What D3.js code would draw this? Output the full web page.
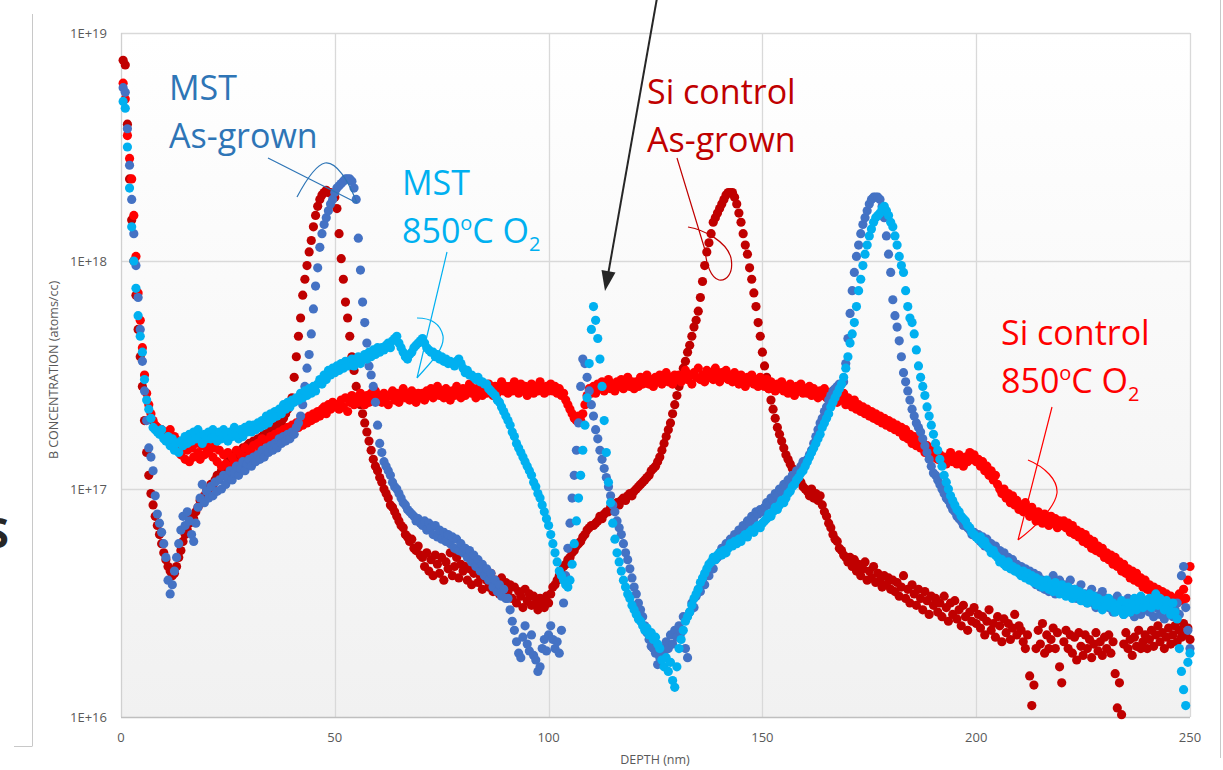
<!DOCTYPE html>
<html>
<head>
<meta charset="utf-8">
<script src="https://cdn.jsdelivr.net/npm/d3@7"></script>
<style>
  html, body { margin: 0; padding: 0; background: #fff; }
  svg { display: block; font-family: "Open Sans", sans-serif; }
</style>
</head>
<body>
<div id="chart"></div>
<script>
// log10 of B concentration (atoms/cc), one value every 0.5 nm from 0.5 to 250 nm
const siAsGrown = [
  18.88, 18.86, 18.6, 18.36, 18.18, 18.0, 17.85, 17.7, 17.58, 17.45, 17.3, 17.16, 17.06, 16.98, 16.93, 16.88, 16.84, 16.8, 16.76, 16.72,
  16.69, 16.66, 16.64, 16.62, 16.63, 16.66, 16.7, 16.73, 16.77, 16.8, 16.82, 16.85, 16.88, 16.87, 16.9, 16.92, 16.95, 16.94, 16.97, 16.99,
  17.0, 17.02, 17.01, 17.04, 17.06, 17.05, 17.08, 17.1, 17.09, 17.12, 17.1, 17.13, 17.15, 17.14, 17.16, 17.15, 17.18, 17.17, 17.19, 17.2,
  17.19, 17.21, 17.2, 17.22, 17.21, 17.23, 17.24, 17.22, 17.25, 17.26, 17.27, 17.26, 17.28, 17.3, 17.29, 17.31, 17.33, 17.35, 17.37, 17.4,
  17.49, 17.58, 17.67, 17.75, 17.85, 17.92, 17.98, 18.04, 18.09, 18.15, 18.2, 18.24, 18.27, 18.29, 18.3, 18.31, 18.3, 18.3, 18.29, 18.28,
  18.23, 18.12, 18.01, 17.92, 17.82, 17.75, 17.67, 17.58, 17.52, 17.45, 17.4, 17.37, 17.33, 17.29, 17.25, 17.21, 17.17, 17.13, 17.1, 17.08,
  17.05, 17.03, 17.0, 16.98, 16.96, 16.93, 16.92, 16.9, 16.88, 16.86, 16.84, 16.83, 16.8, 16.79, 16.77, 16.78, 16.74, 16.73, 16.75, 16.71,
  16.7, 16.66, 16.72, 16.64, 16.69, 16.62, 16.71, 16.67, 16.63, 16.7, 16.6, 16.68, 16.65, 16.72, 16.62, 16.66, 16.7, 16.61, 16.67, 16.64,
  16.66, 16.6, 16.65, 16.58, 16.63, 16.67, 16.59, 16.62, 16.56, 16.64, 16.6, 16.57, 16.63, 16.55, 16.6, 16.58, 16.54, 16.61, 16.56, 16.59,
  16.55, 16.58, 16.52, 16.57, 16.5, 16.55, 16.53, 16.48, 16.56, 16.51, 16.54, 16.49, 16.53, 16.5, 16.47, 16.52, 16.5, 16.48, 16.53, 16.5,
  16.54, 16.57, 16.58, 16.6, 16.62, 16.63, 16.66, 16.67, 16.69, 16.7, 16.72, 16.73, 16.75, 16.76, 16.77, 16.79, 16.8, 16.82, 16.83, 16.84,
  16.84, 16.85, 16.86, 16.88, 16.87, 16.89, 16.9, 16.9, 16.92, 16.91, 16.93, 16.94, 16.93, 16.95, 16.96, 16.95, 16.97, 16.98, 16.97, 16.99,
  17.0, 17.01, 17.02, 17.03, 17.04, 17.05, 17.06, 17.08, 17.09, 17.1, 17.12, 17.14, 17.17, 17.2, 17.23, 17.26, 17.29, 17.33, 17.37, 17.41,
  17.45, 17.49, 17.53, 17.56, 17.6, 17.63, 17.67, 17.71, 17.74, 17.78, 17.84, 17.91, 17.98, 18.04, 18.08, 18.12, 18.17, 18.19, 18.21, 18.23,
  18.25, 18.27, 18.29, 18.3, 18.3, 18.3, 18.28, 18.25, 18.21, 18.17, 18.12, 18.07, 18.03, 17.97, 17.92, 17.86, 17.8, 17.73, 17.67, 17.6,
  17.54, 17.49, 17.44, 17.39, 17.35, 17.31, 17.27, 17.24, 17.21, 17.18, 17.15, 17.13, 17.11, 17.09, 17.07, 17.05, 17.04, 17.03, 17.01, 17.0,
  16.99, 16.97, 17.0, 16.96, 16.98, 16.95, 16.97, 16.93, 16.9, 16.88, 16.85, 16.83, 16.8, 16.78, 16.77, 16.74, 16.73, 16.71, 16.7, 16.68,
  16.7, 16.66, 16.69, 16.64, 16.67, 16.62, 16.65, 16.68, 16.6, 16.64, 16.61, 16.66, 16.59, 16.63, 16.6, 16.57, 16.62, 16.58, 16.61, 16.56,
  16.6, 16.55, 16.59, 16.53, 16.57, 16.62, 16.52, 16.56, 16.5, 16.58, 16.54, 16.49, 16.56, 16.52, 16.47, 16.55, 16.51, 16.45, 16.53, 16.49,
  16.52, 16.46, 16.5, 16.44, 16.53, 16.48, 16.42, 16.5, 16.45, 16.51, 16.43, 16.47, 16.4, 16.49, 16.44, 16.38, 16.46, 16.42, 16.48, 16.41,
  16.45, 16.39, 16.44, 16.36, 16.42, 16.47, 16.38, 16.41, 16.35, 16.44, 16.4, 16.33, 16.43, 16.37, 16.41, 16.34, 16.39, 16.45, 16.36, 16.4,
  16.38, 16.33, 16.3, 16.36, 16.18, 16.05, 16.14, 16.3, 16.38, 16.32, 16.41, 16.28, 16.36, 16.3, 16.34, 16.39, 16.3, 16.37, 16.22, 16.15,
  16.33, 16.38, 16.3, 16.36, 16.28, 16.35, 16.25, 16.37, 16.31, 16.27, 16.36, 16.3, 16.34, 16.26, 16.32, 16.37, 16.29, 16.33, 16.27, 16.35,
  16.3, 16.36, 16.28, 16.33, 16.19, 16.04, 16.15, 16.01, 16.32, 16.37, 16.3, 16.34, 16.27, 16.35, 16.31, 16.38, 16.3, 16.33, 16.36, 16.3,
  16.34, 16.38, 16.31, 16.36, 16.4, 16.33, 16.37, 16.3, 16.35, 16.39, 16.32, 16.36, 16.4, 16.33, 16.38, 16.35, 16.41, 16.36, 16.39, 16.34
];

const siAnneal = [
  18.78, 18.71, 18.55, 18.45, 18.36, 18.2, 18.02, 17.86, 17.74, 17.62, 17.5, 17.42, 17.37, 17.33, 17.3, 17.28, 17.27, 17.25, 17.26, 17.24,
  17.25, 17.22, 17.26, 17.2, 17.23, 17.18, 17.21, 17.15, 17.19, 17.13, 17.17, 17.12, 17.18, 17.14, 17.2, 17.16, 17.13, 17.19, 17.15, 17.18,
  17.16, 17.2, 17.14, 17.18, 17.12, 17.17, 17.1, 17.15, 17.11, 17.16, 17.09, 17.14, 17.12, 17.17, 17.11, 17.15, 17.13, 17.18, 17.14, 17.17,
  17.16, 17.19, 17.15, 17.2, 17.18, 17.22, 17.17, 17.21, 17.19, 17.23, 17.2, 17.24, 17.22, 17.25, 17.21, 17.26, 17.24, 17.27, 17.23, 17.28,
  17.26, 17.29, 17.27, 17.3, 17.28, 17.31, 17.29, 17.32, 17.3, 17.33, 17.31, 17.34, 17.32, 17.35, 17.36, 17.33, 17.37, 17.35, 17.38, 17.36,
  17.37, 17.35, 17.39, 17.36, 17.4, 17.34, 17.38, 17.41, 17.37, 17.4, 17.38, 17.42, 17.39, 17.37, 17.41, 17.38, 17.42, 17.4, 17.43, 17.39,
  17.41, 17.38, 17.42, 17.4, 17.37, 17.41, 17.43, 17.39, 17.42, 17.38, 17.41, 17.44, 17.4, 17.42, 17.39, 17.43, 17.41, 17.38, 17.42, 17.4,
  17.42, 17.39, 17.43, 17.41, 17.44, 17.4, 17.42, 17.45, 17.41, 17.43, 17.4, 17.44, 17.42, 17.39, 17.43, 17.41, 17.45, 17.42, 17.4, 17.44,
  17.41, 17.43, 17.46, 17.42, 17.44, 17.4, 17.43, 17.45, 17.41, 17.44, 17.42, 17.46, 17.43, 17.41, 17.45, 17.42, 17.44, 17.47, 17.43, 17.45,
  17.42, 17.45, 17.43, 17.47, 17.44, 17.42, 17.46, 17.43, 17.45, 17.41, 17.44, 17.46, 17.42, 17.45, 17.43, 17.47, 17.44, 17.42, 17.45, 17.43,
  17.46, 17.43, 17.45, 17.42, 17.44, 17.41, 17.42, 17.39, 17.37, 17.35, 17.33, 17.31, 17.3, 17.32, 17.3, 17.33, 17.37, 17.41, 17.44, 17.42,
  17.45, 17.42, 17.46, 17.44, 17.47, 17.43, 17.45, 17.48, 17.44, 17.46, 17.43, 17.47, 17.45, 17.48, 17.44, 17.46, 17.49, 17.45, 17.47, 17.44,
  17.47, 17.45, 17.49, 17.46, 17.48, 17.5, 17.46, 17.48, 17.45, 17.49, 17.47, 17.5, 17.46, 17.48, 17.51, 17.47, 17.49, 17.46, 17.5, 17.48,
  17.5, 17.47, 17.49, 17.52, 17.48, 17.5, 17.46, 17.51, 17.49, 17.53, 17.48, 17.5, 17.47, 17.52, 17.49, 17.51, 17.48, 17.53, 17.5, 17.47,
  17.51, 17.49, 17.52, 17.48, 17.5, 17.47, 17.51, 17.49, 17.46, 17.5, 17.48, 17.45, 17.49, 17.47, 17.5, 17.46, 17.48, 17.45, 17.49, 17.47,
  17.45, 17.48, 17.44, 17.47, 17.45, 17.43, 17.46, 17.44, 17.47, 17.43, 17.45, 17.42, 17.46, 17.44, 17.41, 17.45, 17.43, 17.46, 17.42, 17.44,
  17.42, 17.45, 17.41, 17.44, 17.42, 17.4, 17.43, 17.41, 17.44, 17.4, 17.42, 17.39, 17.43, 17.4, 17.38, 17.41, 17.39, 17.42, 17.37, 17.4,
  17.38, 17.36, 17.39, 17.35, 17.37, 17.34, 17.36, 17.33, 17.35, 17.32, 17.34, 17.31, 17.33, 17.3, 17.32, 17.29, 17.31, 17.28, 17.3, 17.27,
  17.29, 17.26, 17.28, 17.25, 17.27, 17.23, 17.26, 17.22, 17.24, 17.2, 17.23, 17.19, 17.21, 17.18, 17.2, 17.16, 17.19, 17.15, 17.17, 17.14,
  17.16, 17.13, 17.15, 17.12, 17.14, 17.11, 17.13, 17.16, 17.12, 17.14, 17.11, 17.15, 17.13, 17.1, 17.14, 17.12, 17.16, 17.13, 17.15, 17.12,
  17.13, 17.1, 17.12, 17.08, 17.1, 17.06, 17.08, 17.04, 17.06, 17.02, 17.0, 16.98, 17.0, 16.96, 16.98, 16.94, 16.97, 16.93, 16.95, 16.91,
  16.93, 16.9, 16.94, 16.91, 16.88, 16.92, 16.89, 16.86, 16.9, 16.87, 16.85, 16.89, 16.86, 16.84, 16.88, 16.85, 16.87, 16.83, 16.86, 16.84,
  16.86, 16.83, 16.85, 16.81, 16.84, 16.8, 16.82, 16.79, 16.81, 16.77, 16.8, 16.76, 16.78, 16.74, 16.77, 16.73, 16.75, 16.72, 16.74, 16.7,
  16.72, 16.69, 16.71, 16.67, 16.7, 16.66, 16.68, 16.64, 16.67, 16.63, 16.65, 16.61, 16.64, 16.6, 16.63, 16.59, 16.61, 16.57, 16.6, 16.56,
  16.58, 16.55, 16.57, 16.53, 16.56, 16.52, 16.55, 16.51, 16.54, 16.5, 16.53, 16.49, 16.52, 16.5, 16.54, 16.51, 16.56, 16.52, 16.6, 16.66
];

const mstAsGrown = [
  18.76, 18.74, 18.58, 18.42, 18.27, 18.12, 17.98, 17.84, 17.7, 17.56, 17.43, 17.3, 17.18, 17.14, 17.08, 16.97, 16.89, 16.85, 16.81, 16.76,
  16.7, 16.6, 16.54, 16.58, 16.64, 16.7, 16.76, 16.82, 16.88, 16.84, 16.9, 16.86, 16.8, 16.77, 16.85, 16.92, 16.96, 17.02, 16.94, 16.99,
  16.96, 17.01, 16.97, 17.03, 16.99, 17.04, 17.0, 17.06, 17.02, 17.05, 17.08, 17.04, 17.07, 17.1, 17.06, 17.09, 17.12, 17.08, 17.11, 17.13,
  17.1, 17.14, 17.12, 17.15, 17.13, 17.17, 17.14, 17.18, 17.16, 17.19, 17.17, 17.2, 17.18, 17.22, 17.2, 17.23, 17.21, 17.24, 17.22, 17.25,
  17.24, 17.27, 17.29, 17.32, 17.37, 17.45, 17.53, 17.59, 17.68, 17.79, 17.89, 17.97, 18.06, 18.12, 18.16, 18.19, 18.22, 18.25, 18.27, 18.3,
  18.32, 18.33, 18.34, 18.35, 18.36, 18.36, 18.36, 18.35, 18.32, 18.27, 18.1, 17.96, 17.82, 17.73, 17.64, 17.54, 17.5, 17.45, 17.38, 17.28,
  17.2, 17.16, 17.12, 17.1, 17.08, 17.06, 17.03, 17.01, 17.0, 16.98, 16.96, 16.94, 16.93, 16.91, 16.9, 16.89, 16.88, 16.86, 16.87, 16.85,
  16.84, 16.86, 16.82, 16.85, 16.83, 16.8, 16.84, 16.79, 16.82, 16.78, 16.81, 16.77, 16.8, 16.76, 16.79, 16.74, 16.78, 16.73, 16.76, 16.72,
  16.74, 16.7, 16.73, 16.68, 16.71, 16.66, 16.69, 16.64, 16.67, 16.62, 16.65, 16.6, 16.63, 16.57, 16.6, 16.55, 16.58, 16.53, 16.56, 16.52,
  16.52, 16.47, 16.42, 16.38, 16.33, 16.28, 16.26, 16.35, 16.4, 16.32, 16.29, 16.36, 16.27, 16.25, 16.2, 16.22, 16.3, 16.34, 16.29, 16.36,
  16.4, 16.34, 16.3, 16.33, 16.28, 16.38, 16.5, 16.62, 16.74, 16.85, 16.96, 17.06, 17.17, 17.29, 17.45, 17.57, 17.55, 17.49, 17.43, 17.37,
  17.32, 17.26, 17.22, 17.17, 17.13, 17.09, 17.05, 17.01, 16.97, 16.93, 16.9, 16.86, 16.83, 16.8, 16.76, 16.72, 16.69, 16.65, 16.61, 16.57,
  16.54, 16.5, 16.47, 16.44, 16.4, 16.37, 16.34, 16.31, 16.3, 16.28, 16.23, 16.26, 16.3, 16.27, 16.33, 16.3, 16.36, 16.32, 16.38, 16.35,
  16.4, 16.37, 16.44, 16.3, 16.26, 16.46, 16.5, 16.48, 16.53, 16.56, 16.55, 16.6, 16.58, 16.63, 16.62, 16.66, 16.65, 16.69, 16.7, 16.72,
  16.74, 16.72, 16.76, 16.75, 16.78, 16.77, 16.8, 16.79, 16.82, 16.81, 16.84, 16.83, 16.86, 16.85, 16.88, 16.87, 16.9, 16.89, 16.91, 16.9,
  16.92, 16.94, 16.93, 16.96, 16.95, 16.98, 16.97, 17.0, 16.99, 17.02, 17.01, 17.04, 17.03, 17.06, 17.05, 17.08, 17.07, 17.1, 17.12, 17.11,
  17.13, 17.15, 17.17, 17.2, 17.23, 17.26, 17.29, 17.31, 17.34, 17.36, 17.39, 17.41, 17.43, 17.44, 17.45, 17.46, 17.46, 17.47, 17.55, 17.66,
  17.77, 17.87, 17.95, 18.02, 18.07, 18.12, 18.16, 18.19, 18.22, 18.25, 18.27, 18.28, 18.28, 18.28, 18.27, 18.24, 18.19, 18.11, 18.03, 17.95,
  17.83, 17.76, 17.71, 17.65, 17.58, 17.51, 17.47, 17.43, 17.39, 17.35, 17.32, 17.29, 17.27, 17.25, 17.22, 17.19, 17.16, 17.13, 17.1, 17.07,
  17.06, 17.04, 17.02, 17.0, 16.98, 16.96, 16.95, 16.93, 16.91, 16.9, 16.88, 16.87, 16.86, 16.84, 16.85, 16.83, 16.82, 16.8, 16.81, 16.79,
  16.8, 16.77, 16.79, 16.75, 16.78, 16.74, 16.76, 16.72, 16.75, 16.71, 16.73, 16.69, 16.72, 16.68, 16.7, 16.66, 16.69, 16.65, 16.67, 16.64,
  16.66, 16.62, 16.65, 16.61, 16.64, 16.6, 16.63, 16.58, 16.62, 16.57, 16.6, 16.56, 16.59, 16.55, 16.58, 16.62, 16.54, 16.57, 16.6, 16.55,
  16.58, 16.54, 16.57, 16.6, 16.53, 16.56, 16.52, 16.55, 16.58, 16.51, 16.54, 16.5, 16.53, 16.56, 16.5, 16.48, 16.53, 16.51, 16.55, 16.49,
  16.52, 16.48, 16.51, 16.46, 16.5, 16.53, 16.47, 16.5, 16.45, 16.49, 16.52, 16.46, 16.5, 16.44, 16.48, 16.51, 16.45, 16.49, 16.47, 16.5,
  16.46, 16.49, 16.44, 16.48, 16.51, 16.45, 16.47, 16.43, 16.5, 16.46, 16.48, 16.44, 16.47, 16.5, 16.45, 16.62, 16.66, 16.48, 16.38, 16.3
];

const mstAnneal = [
  18.7, 18.67, 18.5, 18.32, 18.15, 18.0, 17.88, 17.76, 17.67, 17.6, 17.48, 17.39, 17.35, 17.31, 17.27, 17.26, 17.25, 17.24, 17.26, 17.22,
  17.21, 17.23, 17.19, 17.22, 17.17, 17.2, 17.16, 17.21, 17.19, 17.23, 17.2, 17.24, 17.21, 17.25, 17.22, 17.26, 17.23, 17.2, 17.24, 17.22,
  17.25, 17.22, 17.26, 17.23, 17.21, 17.25, 17.22, 17.26, 17.24, 17.21, 17.25, 17.23, 17.27, 17.24, 17.22, 17.26, 17.23, 17.27, 17.25, 17.28,
  17.25, 17.28, 17.26, 17.29, 17.27, 17.3, 17.28, 17.32, 17.29, 17.33, 17.31, 17.34, 17.32, 17.35, 17.33, 17.37, 17.35, 17.38, 17.36, 17.39,
  17.38, 17.4, 17.39, 17.42, 17.4, 17.43, 17.41, 17.44, 17.42, 17.45, 17.43, 17.46, 17.48, 17.46, 17.5, 17.48, 17.52, 17.5, 17.53, 17.51,
  17.54, 17.52, 17.55, 17.53, 17.56, 17.54, 17.55, 17.57, 17.54, 17.56, 17.58, 17.55, 17.57, 17.59, 17.57, 17.6, 17.58, 17.61, 17.59, 17.62,
  17.6, 17.62, 17.61, 17.63, 17.64, 17.62, 17.65, 17.66, 17.67, 17.64, 17.62, 17.6, 17.58, 17.57, 17.59, 17.6, 17.62, 17.63, 17.64, 17.65,
  17.66, 17.64, 17.62, 17.61, 17.6, 17.6, 17.58, 17.59, 17.57, 17.58, 17.56, 17.57, 17.55, 17.56, 17.55, 17.54, 17.56, 17.57, 17.55, 17.53,
  17.51, 17.52, 17.5, 17.5, 17.49, 17.48, 17.49, 17.47, 17.47, 17.46, 17.46, 17.44, 17.43, 17.42, 17.41, 17.39, 17.38, 17.36, 17.34, 17.32,
  17.3, 17.28, 17.25, 17.23, 17.2, 17.18, 17.16, 17.14, 17.12, 17.1, 17.08, 17.06, 17.03, 17.01, 16.98, 16.96, 16.93, 16.9, 16.87, 16.84,
  16.8, 16.76, 16.72, 16.68, 16.64, 16.62, 16.6, 16.58, 16.57, 16.6, 16.67, 16.76, 16.86, 16.96, 17.06, 17.17, 17.28, 17.4, 17.55, 17.7,
  17.8, 17.74, 17.66, 17.57, 17.45, 17.3, 17.16, 17.03, 16.94, 16.85, 16.78, 16.72, 16.68, 16.64, 16.6, 16.57, 16.54, 16.52, 16.49, 16.47,
  16.45, 16.43, 16.42, 16.4, 16.38, 16.39, 16.36, 16.37, 16.34, 16.35, 16.32, 16.3, 16.25, 16.22, 16.26, 16.2, 16.24, 16.16, 16.13, 16.22,
  16.3, 16.34, 16.38, 16.42, 16.44, 16.46, 16.49, 16.52, 16.54, 16.56, 16.59, 16.61, 16.63, 16.65, 16.67, 16.68, 16.7, 16.69, 16.71, 16.72,
  16.71, 16.73, 16.72, 16.74, 16.76, 16.75, 16.77, 16.76, 16.78, 16.77, 16.79, 16.8, 16.79, 16.81, 16.82, 16.81, 16.83, 16.84, 16.83, 16.85,
  16.86, 16.87, 16.89, 16.88, 16.9, 16.92, 16.91, 16.93, 16.95, 16.94, 16.96, 16.98, 16.99, 17.01, 17.02, 17.04, 17.05, 17.07, 17.08, 17.1,
  17.12, 17.14, 17.16, 17.18, 17.2, 17.22, 17.24, 17.27, 17.29, 17.31, 17.33, 17.36, 17.38, 17.4, 17.42, 17.44, 17.46, 17.49, 17.53, 17.58,
  17.64, 17.68, 17.73, 17.8, 17.87, 17.92, 17.98, 18.03, 18.07, 18.11, 18.14, 18.17, 18.19, 18.2, 18.21, 18.23, 18.24, 18.22, 18.2, 18.17,
  18.15, 18.11, 18.07, 18.02, 17.98, 17.95, 17.87, 17.8, 17.75, 17.73, 17.68, 17.61, 17.54, 17.49, 17.45, 17.41, 17.36, 17.32, 17.28, 17.24,
  17.2, 17.17, 17.13, 17.1, 17.06, 17.03, 17.0, 16.97, 16.95, 16.93, 16.91, 16.9, 16.88, 16.87, 16.86, 16.84, 16.83, 16.81, 16.8, 16.79,
  16.78, 16.79, 16.76, 16.77, 16.75, 16.74, 16.72, 16.73, 16.71, 16.7, 16.68, 16.69, 16.67, 16.66, 16.68, 16.65, 16.66, 16.64, 16.65, 16.63,
  16.62, 16.64, 16.61, 16.63, 16.6, 16.62, 16.59, 16.61, 16.58, 16.6, 16.57, 16.59, 16.6, 16.56, 16.58, 16.55, 16.59, 16.57, 16.54, 16.58,
  16.56, 16.53, 16.57, 16.54, 16.52, 16.56, 16.53, 16.55, 16.51, 16.54, 16.52, 16.5, 16.54, 16.51, 16.53, 16.49, 16.52, 16.5, 16.47, 16.51,
  16.49, 16.52, 16.48, 16.5, 16.46, 16.49, 16.47, 16.51, 16.45, 16.48, 16.5, 16.46, 16.49, 16.52, 16.47, 16.5, 16.53, 16.48, 16.51, 16.49,
  16.52, 16.48, 16.51, 16.54, 16.49, 16.52, 16.5, 16.47, 16.51, 16.48, 16.45, 16.5, 16.46, 16.43, 16.3, 16.2, 16.12, 16.05, 16.24, 16.28
];

// measurement depths (nm), 0.5 nm apart
const depth = d3.range(1, 501).map(i => i * 0.5);

const xTicks = [0, 50, 100, 150, 200, 250];
const yTicks = [1e16, 1e17, 1e18, 1e19];
const yTickLabels = ["1E+16", "1E+17", "1E+18", "1E+19"];

const series = [
  { name: "Si control As-grown", values: siAsGrown, color: "#C00000" },
  { name: "Si control 850C O2", values: siAnneal, color: "#FF0000" },
  { name: "MST As-grown", values: mstAsGrown, color: "#4472C4" },
  { name: "MST 850C O2", values: mstAnneal, color: "#00B0F0" }
];

const W = 1223, H = 770;
const plot = { left: 121, right: 1190, top: 33, bottom: 717 };

const svg = d3.select("#chart")
    .append("svg")
    .attr("width", W)
    .attr("height", H);

const x = d3.scaleLinear().domain([0, 250]).range([plot.left, plot.right]);
const y = d3.scaleLog().domain([1e16, 1e19]).range([plot.bottom, plot.top]);

// plot area background, white fading to light grey
const grad = svg.append("defs").append("linearGradient")
    .attr("id", "bg").attr("x1", 0).attr("y1", 0).attr("x2", 0).attr("y2", 1);
grad.append("stop").attr("offset", "0%").attr("stop-color", "#ffffff");
grad.append("stop").attr("offset", "100%").attr("stop-color", "#f1f1f1");

svg.append("rect")
    .attr("x", plot.left).attr("y", plot.top)
    .attr("width", plot.right - plot.left).attr("height", plot.bottom - plot.top)
    .attr("fill", "url(#bg)");

// outer frame pieces
const frame = svg.append("g").attr("stroke", "#c8c8c8").attr("fill", "none");
frame.append("line").attr("x1", 32.5).attr("x2", 32.5).attr("y1", 14).attr("y2", 746);
frame.append("line").attr("x1", 14).attr("x2", 32.5).attr("y1", 746.5).attr("y2", 746.5);
frame.append("line").attr("x1", 1220.5).attr("x2", 1220.5).attr("y1", 0).attr("y2", 758);

// gridlines
svg.append("g")
    .selectAll("line")
    .data(yTicks.slice(1))
    .join("line")
    .attr("x1", plot.left).attr("x2", plot.right)
    .attr("y1", d => Math.round(y(d)) + 0.5).attr("y2", d => Math.round(y(d)) + 0.5)
    .attr("stroke", "#d9d9d9").attr("stroke-width", 1.3);

svg.append("g")
    .selectAll("line")
    .data(xTicks.slice(1))
    .join("line")
    .attr("x1", d => Math.round(x(d)) + 0.5).attr("x2", d => Math.round(x(d)) + 0.5)
    .attr("y1", plot.top).attr("y2", plot.bottom)
    .attr("stroke", "#d9d9d9").attr("stroke-width", 1.3);

// axis lines
svg.append("line")
    .attr("x1", plot.left + 0.5).attr("x2", plot.left + 0.5)
    .attr("y1", plot.top).attr("y2", plot.bottom)
    .attr("stroke", "#d0d0d0").attr("stroke-width", 1.3);

svg.append("line")
    .attr("x1", plot.left).attr("x2", plot.right)
    .attr("y1", plot.bottom + 0.5).attr("y2", plot.bottom + 0.5)
    .attr("stroke", "#bfbfbf").attr("stroke-width", 1.5);

// tick labels
svg.append("g")
    .selectAll("text")
    .data(yTicks)
    .join("text")
    .attr("x", 107)
    .attr("y", d => y(d))
    .attr("dy", "0.35em")
    .attr("text-anchor", "end")
    .attr("font-size", 13)
    .attr("fill", "#595959")
    .text((d, i) => yTickLabels[i]);

svg.append("g")
    .selectAll("text")
    .data(xTicks)
    .join("text")
    .attr("x", d => x(d))
    .attr("y", 742)
    .attr("text-anchor", "middle")
    .attr("font-size", 13)
    .attr("fill", "#595959")
    .text(d => d);

// axis titles
svg.append("text")
    .attr("x", 655).attr("y", 764)
    .attr("text-anchor", "middle")
    .attr("font-size", 12.5)
    .attr("fill", "#595959")
    .text("DEPTH (nm)");

svg.append("text")
    .attr("transform", "translate(58,370) rotate(-90)")
    .attr("text-anchor", "middle")
    .attr("font-size", 12.5)
    .attr("fill", "#595959")
    .text("B CONCENTRATION (atoms/cc)");

// scatter series
series.forEach(s => {
    const pts = depth.map((d, i) => ({ d, v: Math.pow(10, s.values[i]) }));
    svg.append("g")
        .attr("fill", s.color)
        .selectAll("circle")
        .data(pts)
        .join("circle")
        .attr("cx", p => x(p.d))
        .attr("cy", p => y(p.v))
        .attr("r", 4.6);
});

// text callouts
function label(g, x0, y0, lines, color) {
    lines.forEach((ln, i) => {
        const t = g.append("text")
            .attr("x", x0).attr("y", y0 + i * 48)
            .attr("font-size", 34)
            .attr("fill", color);
        if (ln === "850C") {
            t.append("tspan").text("850");
            t.append("tspan").attr("font-size", 20).attr("dy", -13).text("o");
            t.append("tspan").attr("dy", 13).text("C O");
            t.append("tspan").attr("font-size", 20).attr("dy", 8).text("2");
        } else {
            t.text(ln);
        }
    });
}

const notes = svg.append("g");
label(notes, 169, 100, ["MST", "As-grown"], "#2E75B6");
label(notes, 402, 195, ["MST", "850C"], "#00B0F0");
label(notes, 647, 104, ["Si control", "As-grown"], "#C00000");
label(notes, 1001, 345, ["Si control", "850C"], "#FF0000");

// hand-drawn pointer strokes
const strokes = [
    { c: "#2E75B6", d: "M268,158 L357,203 M297,197 C305,182 315,165 325,163 C336,161 348,180 357,203" },
    { c: "#00B0F0", d: "M447,252 L417,378 M417,318 C428,318 440,322 443,336 C445,350 428,365 417,378" },
    { c: "#C00000", d: "M677,158 L705,250 M688,227 C705,230 727,242 731,258 C734,274 726,281 719,280 C711,278 706,264 705,250" },
    { c: "#FF0000", d: "M1052,407 L1018,540 M1028,460 C1045,467 1058,480 1057,493 C1055,508 1034,528 1018,540" }
];
notes.selectAll("path.stroke")
    .data(strokes)
    .join("path")
    .attr("class", "stroke")
    .attr("d", s => s.d)
    .attr("fill", "none")
    .attr("stroke", s => s.c)
    .attr("stroke-width", 1.2);

// black arrow from the top
notes.append("line")
    .attr("x1", 657).attr("y1", -2)
    .attr("x2", 608.5).attr("y2", 272)
    .attr("stroke", "#262626").attr("stroke-width", 2);
notes.append("path")
    .attr("d", "M605,291 L615.5,272.5 L601.5,270 Z")
    .attr("fill", "#262626");

// clipped glyph from the neighbouring slide content
svg.append("text")
    .attr("x", 9).attr("y", 548)
    .attr("text-anchor", "end")
    .attr("font-size", 42)
    .attr("font-weight", "bold")
    .attr("fill", "#262626")
    .text("S");
</script>
</body>
</html>
